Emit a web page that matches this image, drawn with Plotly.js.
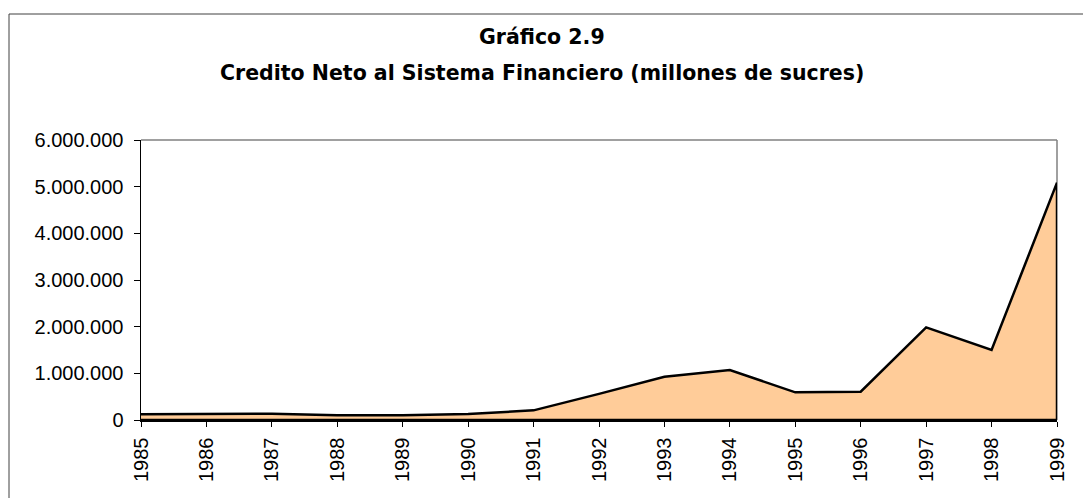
<!DOCTYPE html>
<html>
<head>
<meta charset="utf-8">
<script src="https://cdn.plot.ly/plotly-3.0.1.min.js"></script>
<style>html,body{margin:0;padding:0;background:#fff;}#chart{width:1083px;height:498px;}</style>
</head>
<body>
<div id="chart"></div>
<script>
const years = [1985,1986,1987,1988,1989,1990,1991,1992,1993,1994,1995,1996,1997,1998,1999];
const credito = [122000,135000,135000,100000,100000,130000,207000,560000,928000,1071000,593000,607000,1986000,1500000,5086000];
const yTicks = [0,1000000,2000000,3000000,4000000,5000000,6000000];
const titleLine1 = 'Gráfico 2.9';
const titleLine2 = 'Credito Neto al Sistema Financiero (millones de sucres)';

// closed polygon: series values then back along the zero baseline
const polyX = years.concat([years[years.length-1], years[0]]);
const polyY = credito.concat([0, 0]);

const trace = {
  x: polyX, y: polyY, type: 'scatter', mode: 'lines',
  fill: 'toself', fillcolor: '#FFCC99',
  line: {color: '#000000', width: 2.5},
  hoverinfo: 'skip', showlegend: false
};

const tickFont = {family: '"Liberation Sans", Arial, sans-serif', size: 20, color: '#000'};
const titleFont = {family: '"DejaVu Sans", Verdana, sans-serif', size: 20.5, color: '#000'};

const layout = {
  width: 1083, height: 498,
  margin: {l: 141, r: 26, t: 140, b: 78, pad: 0},
  paper_bgcolor: '#ffffff', plot_bgcolor: '#ffffff',
  separators: ',.',
  showlegend: false,
  xaxis: {
    range: [years[0], years[years.length-1]], tickvals: years, ticktext: years.map(String),
    tickangle: -90, ticks: 'outside', ticklen: 5, tickcolor: '#000', tickwidth: 1,
    ticklabelstandoff: 3,
    showline: true, linecolor: '#000', linewidth: 1.5, showgrid: false, zeroline: false,
    tickfont: tickFont, fixedrange: true
  },
  yaxis: {
    range: [0, 6000000], tickvals: yTicks, tickformat: ',d',
    ticks: 'outside', ticklen: 6, tickcolor: '#000', tickwidth: 1,
    ticklabelstandoff: 6,
    showline: true, linecolor: '#000', linewidth: 1.5, showgrid: false, zeroline: false,
    tickfont: tickFont, fixedrange: true
  },
  shapes: [
    {type: 'line', xref: 'paper', yref: 'paper', x0: 0, x1: 1, y0: 1, y1: 1, line: {color: '#808080', width: 1.5}},
    {type: 'line', xref: 'paper', yref: 'paper', x0: 1, x1: 1, y0: 0, y1: 1, line: {color: '#808080', width: 1.5}, layer: 'below'},
    {type: 'rect', xref: 'paper', yref: 'paper', x0: -0.1441, x1: 1.1, y0: -0.5, y1: 1.45, line: {color: '#404040', width: 1}, fillcolor: 'rgba(0,0,0,0)'}
  ],
  annotations: [
    {text: '<b>' + titleLine1 + '</b>', xref: 'paper', yref: 'paper', x: (542-141)/916, y: 1 + (140-37)/280,
     xanchor: 'center', yanchor: 'middle', showarrow: false, font: titleFont},
    {text: '<b>' + titleLine2 + '</b>', xref: 'paper', yref: 'paper', x: (542-141)/916, y: 1 + (140-73)/280,
     xanchor: 'center', yanchor: 'middle', showarrow: false, font: titleFont}
  ]
};

Plotly.newPlot('chart', [trace], layout, {displayModeBar: false, staticPlot: true});
</script>
</body>
</html>
